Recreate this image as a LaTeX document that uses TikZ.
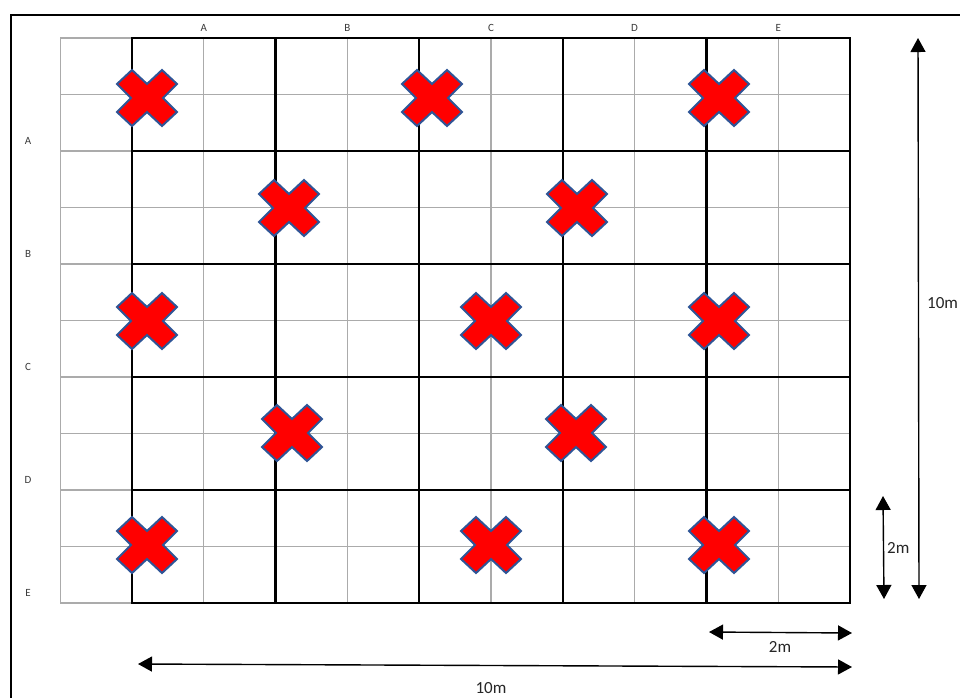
\documentclass[tikz,border=0pt]{standalone}
\usepackage{fontspec}
\setmainfont{Carlito}
\usetikzlibrary{arrows.meta}
\definecolor{thingray}{HTML}{ABABAB}
\definecolor{xblue}{HTML}{2F5597}
\definecolor{xred}{HTML}{FF0000}
\definecolor{lbl}{HTML}{3A3A3A}
\tikzset{
  thingrid/.style={draw=thingray,line width=1.2pt},
  thickgrid/.style={draw=black,line width=2.5pt,line cap=rect},
  frameline/.style={draw=black,line width=1.8pt},
  dimarrow/.style={draw=black,line width=1.4pt,{Triangle[length=14pt,width=15pt]}-{Triangle[length=14pt,width=15pt]}},
  gridlabel/.style={font=\fontsize{11}{13}\selectfont,text=lbl,inner sep=0pt},
  dimlabel/.style={font=\fontsize{17}{20}\selectfont,text=black!85,inner sep=0pt},
  xmark/.pic={\draw[fill=xred,draw=xblue,line width=2pt,line join=miter]
     (0,-14) -- (15,-28) -- (30,-14) -- (16,0) -- (30,14) -- (15,28) -- (0,14)
     -- (-15,28) -- (-30,14) -- (-16,0) -- (-30,-14) -- (-15,-28) -- cycle;}
}
\begin{document}
\begin{tikzpicture}[x=1pt,y=-1pt]
\useasboundingbox (0,0) rectangle (960,697);
\clip (0,0) rectangle (960,697);
\fill[white] (0,0) rectangle (960,697);
% frame
\coordinate (fbl) at (11,700);
\coordinate (ftl) at (11,15);
\coordinate (ftr) at (962,15);
\draw[frameline] (fbl) -- (ftl) -- (ftr);
% thin grid
\foreach \i in {-1,...,10}{
  \draw[thingrid] ({132+71.8*\i},38) -- ({132+71.8*\i},603);
}
\foreach \j in {0,...,10}{
  \draw[thingrid] (60,{38+56.5*\j}) -- (850,{38+56.5*\j});
}
% thick grid
\foreach \i in {0,2,...,10}{
  \draw[thickgrid] ({132+71.8*\i},38) -- ({132+71.8*\i},603);
}
\foreach \j in {0,2,...,10}{
  \draw[thickgrid] (132,{38+56.5*\j}) -- (850,{38+56.5*\j});
}
% labels
\foreach \t [count=\k from 0] in {A,B,C,D,E}{
  \node[gridlabel] (col\t) at ({132+71.8*(2*\k+1)},28) {\t};
  \node[gridlabel] (row\t) at (28,{38+113*(\k+1)-10}) {\t};
}
% crosses
\foreach \cx/\cy in {147/98,432/98,719/98,
                     289/208,577/208,
                     147/321,491/321,719/321,
                     292/433,576/433,
                     147/545,491/545,719/545}{
  \pic at (\cx,\cy) {xmark};
}
% dimension arrows
\coordinate (vla) at (918,38);
\coordinate (vlb) at (919,599);
\draw[dimarrow] (vla) -- (vlb);
\node[dimlabel,anchor=west] (vltxt) at (927,303) {10m};
\coordinate (vsa) at (883,496);
\coordinate (vsb) at (884,599);
\draw[dimarrow] (vsa) -- (vsb);
\node[dimlabel,anchor=west] (vstxt) at (887,548) {2m};
\coordinate (hsa) at (709,632);
\coordinate (hsb) at (852,633);
\draw[dimarrow] (hsa) -- (hsb);
\node[dimlabel] (hstxt) at (780,647) {2m};
\coordinate (hla) at (138,664);
\coordinate (hlb) at (852,667);
\draw[dimarrow] (hla) -- (hlb);
\node[dimlabel] (hltxt) at (491,688) {10m};
\end{tikzpicture}
\end{document}
